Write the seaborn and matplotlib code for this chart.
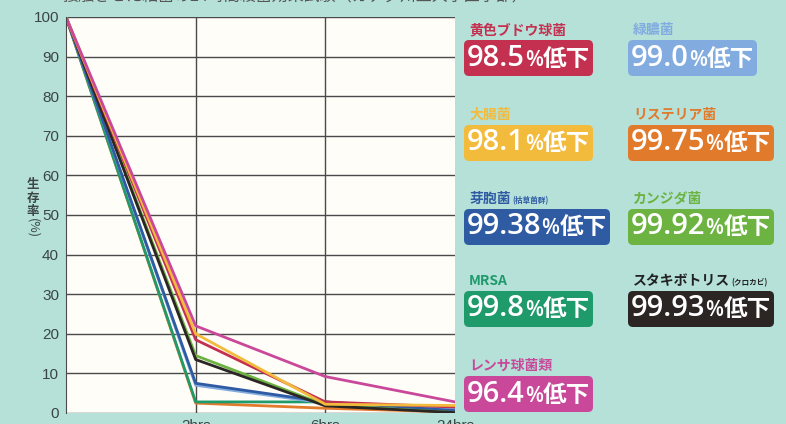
import pandas as pd
import matplotlib.pyplot as plt
import seaborn as sns
from matplotlib.offsetbox import TextArea, HPacker, AnnotationBbox

# 時間軸
times = ['0', '2hrs', '6hrs', '24hrs']

# 菌の名前・補足・低下率・色
names = ['黄色ブドウ球菌', '緑膿菌', '大腸菌', 'リステリア菌', '芽胞菌',
         'カンジダ菌', 'MRSA', 'スタキボトリス', 'レンサ球菌類']
subs = ['', '', '', '', '(枯草菌群)', '', '', '(クロカビ)', '']
reduction = ['98.5', '99.0', '98.1', '99.75', '99.38', '99.92', '99.8', '99.93', '96.4']
colors = ['#c4304f', '#82abdf', '#f2bb3c', '#e27a2b', '#2f5ba3',
          '#6cb341', '#1e9a6b', '#2b2623', '#c9489a']

# 生存率 (%) : 0, 2hrs, 6hrs, 24hrs
staph = [100, 18.5, 2.8, 1.5]
pseudomonas = [100, 7.0, 2.5, 1.0]
ecoli = [100, 20.0, 2.2, 1.9]
listeria = [100, 2.5, 1.2, 0.25]
bacillus = [100, 7.5, 2.8, 0.6]
candida = [100, 14.5, 2.0, 0.1]
mrsa = [100, 2.8, 2.8, 0.2]
stachybotrys = [100, 13.5, 1.8, 0.1]
strepto = [100, 22.0, 9.2, 2.8]

series = [staph, pseudomonas, ecoli, listeria, bacillus,
          candida, mrsa, stachybotrys, strepto]

rows = []
for n, vals in zip(names, series):
    for i, v in enumerate(vals):
        rows.append({'name': n, 'pos': i, 'rate': v})
df = pd.DataFrame(rows)

bg = '#b5e1d9'
tick_col = '#3b4644'

sns.set_style('white')
plt.rcParams['font.family'] = ['Noto Sans CJK JP', 'DejaVu Sans']

fig = plt.figure(figsize=(7.86, 4.24), dpi=100, facecolor=bg)
ax = fig.add_axes([66 / 786, 11 / 424, 389 / 786, 396 / 424])
ax.set_facecolor('#fffdf7')

order = ['リステリア菌', 'MRSA', '緑膿菌', '芽胞菌', 'カンジダ菌',
         'スタキボトリス', '黄色ブドウ球菌', '大腸菌', 'レンサ球菌類']
sns.lineplot(data=df, x='pos', y='rate', hue='name', hue_order=order,
             palette=dict(zip(names, colors)), linewidth=2.0,
             legend=False, ax=ax)

ax.set_xlim(0, 3)
ax.set_ylim(0, 100)
ax.set_yticks(range(0, 101, 10))
ax.set_xticks(range(len(times)))
ax.set_xticklabels([''] + times[1:])
ax.set_xlabel('')
ax.set_ylabel('')
ax.yaxis.grid(True, color='#4a4a4a', linewidth=1.0)
for x in [1, 2]:
    ax.axvline(x, color='#4a4a4a', linewidth=1.0, zorder=0.5)
ax.set_axisbelow(True)
for s in ['top', 'right', 'bottom']:
    ax.spines[s].set_visible(False)
ax.spines['left'].set_color('#4a4a4a')
ax.tick_params(axis='y', length=5, color='#4a4a4a', labelcolor=tick_col,
               labelsize=11, pad=0)
ax.tick_params(axis='x', length=0, labelcolor=tick_col, labelsize=11, pad=4)
for lab in ax.get_yticklabels() + ax.get_xticklabels():
    lab.set_family('Liberation Sans')

# 縦書きのラベル
fig.text(33 / 786, 1 - 198 / 424, '生\n存\n率', ha='center', va='center',
         fontsize=9, color=tick_col, linespacing=1.05, weight='bold')
fig.text(33 / 786, 1 - 228 / 424, '(%)', ha='center', va='center',
         fontsize=9, color=tick_col, rotation=-90)

# タイトル (上が切れている)
fig.text(63 / 786, 1.0 + 3 / 424, '接触させた細菌の24時間殺菌効果試験（カナダ州立大学医学部）',
         ha='left', va='center', fontsize=11.5, color='#555555')

# 右側の低下率ボックス
col_x = [467, 631]
row_y = [58, 143, 227, 309, 394]
for i, (n, sub, r, c) in enumerate(zip(names, subs, reduction, colors)):
    x = col_x[i % 2]
    y = 424 - row_y[i // 2]
    parts = [TextArea(r, textprops=dict(color='white', fontsize=21,
                                        family='Open Sans', weight='semibold')),
             TextArea('%', textprops=dict(color='white', fontsize=15,
                                          family='Open Sans', weight='semibold')),
             TextArea('低下', textprops=dict(color='white', fontsize=17,
                                           family='Noto Sans CJK JP', weight='bold'))]
    box = HPacker(children=parts, align='baseline', pad=0, sep=0)
    ab = AnnotationBbox(box, (x, y), xycoords='figure pixels', box_alignment=(0, 0.5),
                        frameon=True, pad=0.2, fontsize=12,
                        bboxprops=dict(boxstyle='round,pad=0.2,rounding_size=0.3',
                                       fc=c, ec='none'))
    fig.add_artist(ab)

    lab_col = c if n != 'スタキボトリス' else '#222222'
    label_parts = [TextArea(n, textprops=dict(color=lab_col, fontsize=10, weight='bold'))]
    if sub:
        label_parts.append(TextArea(sub, textprops=dict(color=lab_col, fontsize=5.5,
                                                        weight='bold')))
    lab = HPacker(children=label_parts, align='baseline', pad=0, sep=1)
    ab2 = AnnotationBbox(lab, (x + 2, y + 21), xycoords='figure pixels',
                         box_alignment=(0, 0), frameon=False, pad=0)
    fig.add_artist(ab2)

plt.savefig('out.png', dpi=100, facecolor=bg)
